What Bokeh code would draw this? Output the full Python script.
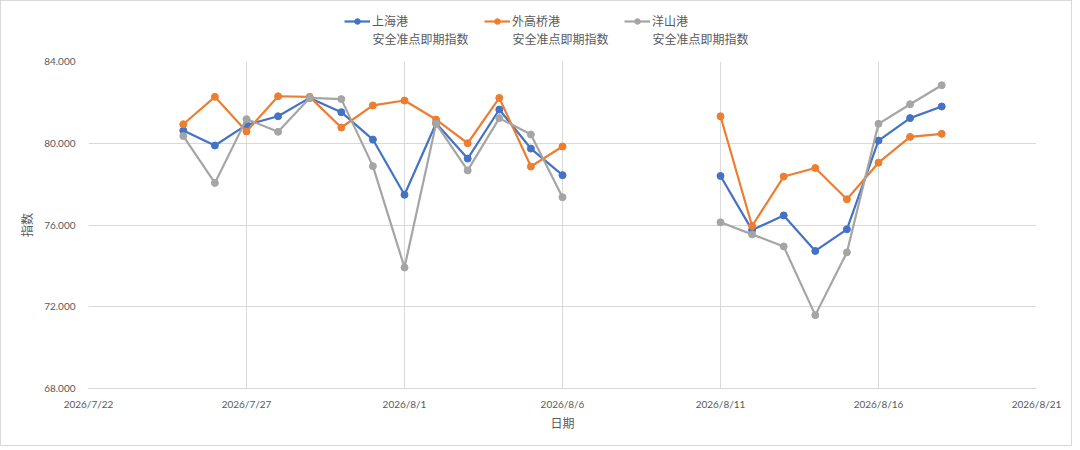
import numpy as np
import pandas as pd
from bokeh.plotting import figure
from bokeh.layouts import column
from bokeh.models import (ColumnDataSource, Range1d, FixedTicker, CustomJSTickFormatter,
                          NumeralTickFormatter, Legend, LegendItem, Label)
from bokeh.embed import file_html
from bokeh.resources import INLINE

# ---- data ----
dates = ["2026-07-25", "2026-07-26", "2026-07-27", "2026-07-28", "2026-07-29", "2026-07-30",
         "2026-07-31", "2026-08-01", "2026-08-02", "2026-08-03", "2026-08-04", "2026-08-05",
         "2026-08-06", "2026-08-07", "2026-08-08", "2026-08-09", "2026-08-10",
         "2026-08-11", "2026-08-12", "2026-08-13", "2026-08-14", "2026-08-15", "2026-08-16",
         "2026-08-17", "2026-08-18"]
nan = float("nan")
shanghai = [80.62, 79.89, 80.90, 81.32, 82.22, 81.52, 80.18, 77.48, 80.98, 79.25, 81.65, 79.74,
            78.44, nan, nan, nan, nan,
            78.40, 75.75, 76.47, 74.73, 75.79, 80.13, 81.23, 81.80]
waigaoqiao = [80.93, 82.27, 80.58, 82.30, 82.27, 80.77, 81.85, 82.09, 81.16, 80.00, 82.22, 78.86,
              79.84, nan, nan, nan, nan,
              81.32, 75.95, 78.37, 78.79, 77.26, 79.05, 80.31, 80.46]
yangshan = [80.35, 78.06, 81.18, 80.56, 82.22, 82.16, 78.88, 73.92, 80.95, 78.67, 81.23, 80.43,
            77.36, nan, nan, nan, nan,
            76.13, 75.54, 74.95, 71.59, 74.66, 80.95, 81.91, 82.84]
series_names = ["上海港", "外高桥港", "洋山港"]
series_subtitle = "安全准点即期指数"
x_ticks = ["2026-07-22", "2026-07-27", "2026-08-01", "2026-08-06", "2026-08-11", "2026-08-16", "2026-08-21"]
y_ticks = [68, 72, 76, 80, 84]

colors = ["#4472C4", "#ED7D31", "#A5A5A5"]
TXT = "#595959"
GRID = "#d9d9d9"
CJK = "Noto Sans CJK SC"
NUM = "Lato"
W = 1070
keys = ["s0", "s1", "s2"]

src = ColumnDataSource(dict(date=pd.to_datetime(dates), s0=shanghai, s1=waigaoqiao, s2=yangshan))
xt = [pd.Timestamp(d).value // 10**6 for d in x_ticks]

# ---- legend strip (series drawn out of its view; only the legend shows) ----
LEG_X, GLYPH_W, STANDOFF, LABEL_W, SPACING = 256, 26, 2, 96, 16
lg = figure(width=W, height=52, output_backend="svg", toolbar_location=None,
            x_axis_location=None, y_axis_location=None, min_border=0,
            x_range=Range1d(0, 1), y_range=Range1d(0, 1))
lg.outline_line_color = None
lg.grid.visible = False
lg.border_fill_color = "white"
items = []
for i, key in enumerate(keys):
    r1 = lg.line("date", key, source=src, line_color=colors[i], line_width=2.2)
    r2 = lg.scatter("date", key, source=src, size=7, fill_color=colors[i], line_color=colors[i])
    items.append(LegendItem(label=series_names[i], renderers=[r1, r2]))
legend = Legend(items=items, orientation="horizontal", location=(LEG_X, 24),
                glyph_width=GLYPH_W, glyph_height=14, label_standoff=STANDOFF, spacing=SPACING,
                label_width=LABEL_W, padding=0, margin=0, border_line_color=None,
                background_fill_alpha=0, label_text_font=CJK, label_text_font_size="12px",
                label_text_color=TXT)
lg.add_layout(legend)
for i in range(len(series_names)):
    lg.add_layout(Label(x=LEG_X + GLYPH_W + STANDOFF + i * (GLYPH_W + STANDOFF + LABEL_W + SPACING),
                        y=15, x_units="screen", y_units="screen", text=series_subtitle,
                        text_font=CJK, text_font_size="12px", text_color=TXT,
                        text_baseline="middle", text_align="left"))

# ---- main chart ----
p = figure(width=W, height=392, x_axis_type="datetime", output_backend="svg",
           toolbar_location=None, min_border_left=87, min_border_right=35,
           min_border_top=8, min_border_bottom=57,
           x_range=Range1d(xt[0], xt[-1]), y_range=Range1d(68, 84))
p.outline_line_color = None
p.background_fill_color = "white"
p.border_fill_color = "white"

for i, key in enumerate(keys):
    p.line("date", key, source=src, line_color=colors[i], line_width=2.2)
    p.scatter("date", key, source=src, size=7, fill_color=colors[i], line_color=colors[i])

p.xaxis.ticker = FixedTicker(ticks=xt)
p.xaxis.formatter = CustomJSTickFormatter(code="""
const d = new Date(tick);
return d.getUTCFullYear() + "/" + (d.getUTCMonth() + 1) + "/" + d.getUTCDate();
""")
p.yaxis.ticker = FixedTicker(ticks=y_ticks)
p.yaxis.formatter = NumeralTickFormatter(format="0.000")

for ax in (p.xaxis, p.yaxis):
    ax.major_tick_line_color = None
    ax.minor_tick_line_color = None
    ax.major_label_text_font = NUM
    ax.major_label_text_font_size = "10px"
    ax.major_label_text_color = TXT
    ax.axis_label_text_font = CJK
    ax.axis_label_text_font_size = "12px"
    ax.axis_label_text_font_style = "normal"
    ax.axis_label_text_color = TXT
p.xaxis.axis_line_color = GRID
p.yaxis.axis_line_color = None
p.xaxis.axis_label = "日期"
p.yaxis.axis_label = "指数"
p.xaxis.major_label_standoff = 3
p.yaxis.major_label_standoff = 7
p.xaxis.axis_label_standoff = 1
p.yaxis.axis_label_standoff = 6

p.xgrid.ticker = FixedTicker(ticks=xt)
p.ygrid.ticker = FixedTicker(ticks=y_ticks)
p.grid.grid_line_color = GRID
p.grid.grid_line_width = 1

layout = column(lg, p, spacing=0, styles={"border": "1px solid #d9d9d9"})

open("out.html", "w").write(file_html(layout, INLINE))
